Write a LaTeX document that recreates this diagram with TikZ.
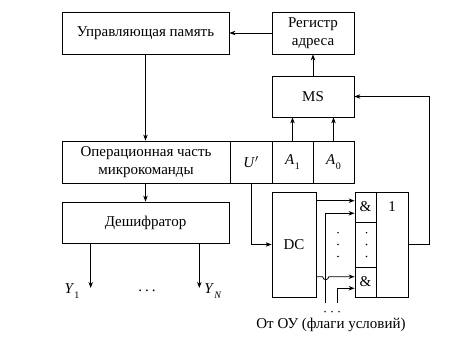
\documentclass[tikz,border=0pt]{standalone}
\usepackage{fontspec}
\setmainfont{Liberation Serif}
\usetikzlibrary{arrows.meta}
\newcommand{\lsub}[1]{\kern0.3pt\raisebox{-0.28em}{\fontsize{10}{10}\selectfont #1}}
\begin{document}
\begin{tikzpicture}[x=1pt,y=-1pt,
  every node/.style={font=\rmfamily\fontsize{15}{17.5}\selectfont},
  blk/.style={draw,line width=0.8pt,inner sep=0pt,rectangle,align=center},
  con/.style={line width=0.8pt},
  arr/.style={con,-{Stealth[length=6pt,width=4.5pt]}},
  dotm/.style={fill=black}]
\useasboundingbox (0,0) rectangle (473,344);
% blocks
\node[blk,minimum width=167pt,minimum height=42pt] (mem) at (145.5,33) {Управляющая память};
\node[blk,minimum width=82pt,minimum height=42pt] (reg) at (313,33) {Регистр\\адреса};
\node[blk,minimum width=82pt,minimum height=41pt] (ms) at (313,96.5) {MS};
\node[blk,minimum width=168pt,minimum height=42pt] (op) at (146,162) {Операционная часть\\микрокоманды};
\node[blk,minimum width=42pt,minimum height=42pt] (up) at (251,162) {\textit{U}$'$};
\node[blk,minimum width=41pt,minimum height=42pt] (a1) at (292.5,162) {\textit{A}\lsub{1}};
\node[blk,minimum width=41pt,minimum height=42pt] (a0) at (333.5,162) {\textit{A}\lsub{0}};
\node[blk,minimum width=167pt,minimum height=41pt] (dec) at (145.5,222.5) {Дешифратор};
\node[blk,minimum width=44pt,minimum height=105pt] (dc) at (294,244.5) {DC};
\node[blk,minimum width=21pt,minimum height=30pt] (and1) at (365.5,207) {\&};
\node[blk,minimum width=21pt,minimum height=45pt] (andd) at (365.5,244.5) {};
\node[blk,minimum width=21pt,minimum height=30pt] (and2) at (365.5,282) {\&};
\node[blk,minimum width=32pt,minimum height=105pt] (or) at (392,244.5) {};
\node (one) at (392,207) {1};
% labels
\node (y1l) at (72,291) {\textit{Y}\lsub{1}};
\node (ynl) at (213,291) {\textit{Y}\lsub{\textit{N}}};
\node (ydots) at (147,291) {.\kern3pt.\kern3pt.};
\node (src) at (331,325) {От ОУ (флаги условий)};
% coordinates
\coordinate (y1) at (90.7,288);
\coordinate (yn) at (199.3,288);
\coordinate (f1) at (325.7,303);
\coordinate (f2) at (337.7,303);
\coordinate (fb) at (429.5,244.5);
% connectors
\draw[arr] (reg.west) -- (mem.east);
\draw[arr] (ms.north) -- (reg.south);
\draw[arr] (a1.north) -- (a1.north |- ms.south);
\draw[arr] (a0.north) -- (a0.north |- ms.south);
\draw[arr] (mem.south) -- (mem.south |- op.north);
\draw[arr] (op.south -| dec.north) -- (dec.north);
\draw[arr] (dec.south -| y1) -- (y1);
\draw[arr] (dec.south -| yn) -- (yn);
\draw[arr] (up.south) |- (dc.west);
\draw[arr] (dc.east |- 0,200.7) -- (and1.west |- 0,200.7);
\draw[arr] (f1) |- (and1.west |- 0,213.3);
\draw[arr] (dc.east |- 0,276.7) -- (322.7,276.7) arc (180:0:3) -- (and2.west |- 0,276.7);
\draw[arr] (f2) |- (and2.west |- 0,288.3);
\draw[arr] (or.east |- fb) -- (fb) |- (ms.east);
% dots
\foreach \yy in {232.7,244.5,256.5} {
  \fill[dotm] (338,\yy) circle (0.8);
  \fill[dotm] (366.5,\yy) circle (0.8);
}
\foreach \xx in {325,332,339} {\fill[dotm] (\xx,311.7) circle (0.8);}
\end{tikzpicture}
\end{document}
